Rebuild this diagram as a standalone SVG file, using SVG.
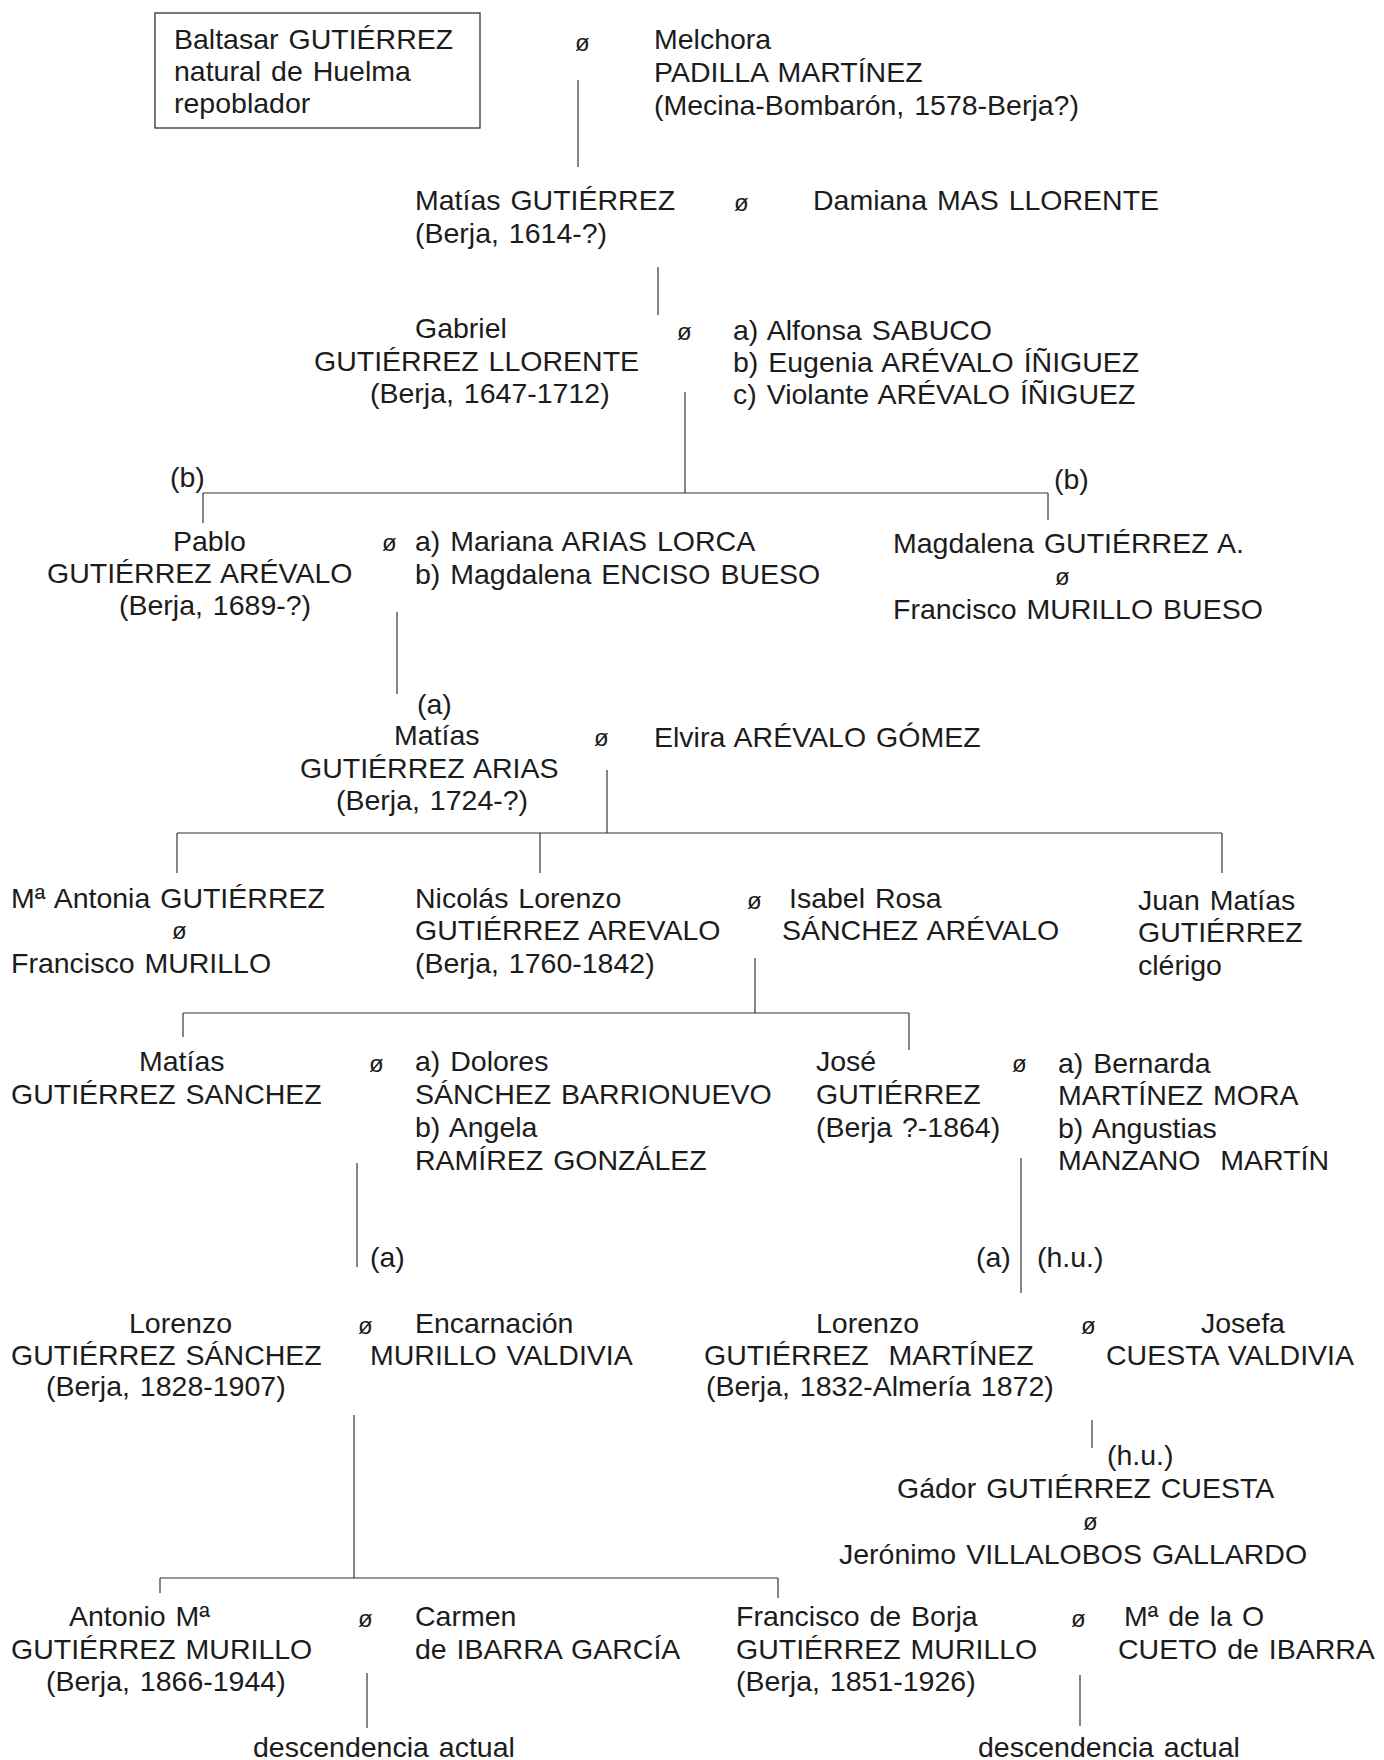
<svg xmlns="http://www.w3.org/2000/svg" width="1384" height="1760" viewBox="0 0 1384 1760">
<style>
text{font-family:"Liberation Sans",Arial,sans-serif;font-size:28.5px;fill:#1c1c1c;word-spacing:2px}
text.m{font-size:24px}
.c line{stroke:#333;stroke-width:1.2}
.box{fill:none;stroke:#333;stroke-width:1.3}
</style>
<rect width="1384" height="1760" fill="#fff"/>
<g class="c" id="connectors">
<line x1="578" y1="80" x2="578" y2="167"/>
<line x1="658" y1="267" x2="658" y2="315"/>
<line x1="685" y1="392" x2="685" y2="493"/>
<line x1="203" y1="493" x2="1048" y2="493"/>
<line x1="203" y1="493" x2="203" y2="523"/>
<line x1="1048" y1="493" x2="1048" y2="520"/>
<line x1="397" y1="612" x2="397" y2="694"/>
<line x1="607" y1="770" x2="607" y2="833"/>
<line x1="177" y1="833" x2="1222" y2="833"/>
<line x1="177" y1="833" x2="177" y2="873"/>
<line x1="540" y1="833" x2="540" y2="873"/>
<line x1="1222" y1="833" x2="1222" y2="873"/>
<line x1="755" y1="958" x2="755" y2="1013"/>
<line x1="183" y1="1013" x2="909" y2="1013"/>
<line x1="183" y1="1013" x2="183" y2="1037"/>
<line x1="909" y1="1013" x2="909" y2="1050"/>
<line x1="357" y1="1163" x2="357" y2="1267"/>
<line x1="1021" y1="1158" x2="1021" y2="1293"/>
<line x1="354" y1="1415" x2="354" y2="1578"/>
<line x1="1092" y1="1420" x2="1092" y2="1448"/>
<line x1="160" y1="1578" x2="778" y2="1578"/>
<line x1="160" y1="1578" x2="160" y2="1593"/>
<line x1="778" y1="1578" x2="778" y2="1598"/>
<line x1="367" y1="1673" x2="367" y2="1728"/>
<line x1="1080" y1="1675" x2="1080" y2="1726"/>
</g>
<g id="baltasar">
<rect class="box" x="155" y="13" width="325" height="115"/>
<text x="174" y="49">Baltasar GUTIÉRREZ</text>
<text x="174" y="81">natural de Huelma</text>
<text x="174" y="113">repoblador</text>
</g>
<g id="marr1"><text class="m" x="575" y="51">ø</text></g>
<g id="melchora">
<text x="654" y="49">Melchora</text>
<text x="654" y="82">PADILLA MARTÍNEZ</text>
<text x="654" y="115">(Mecina-Bombarón, 1578-Berja?)</text>
</g>
<g id="matias1">
<text x="415" y="210">Matías GUTIÉRREZ</text>
<text x="415" y="243">(Berja, 1614-?)</text>
</g>
<g id="marr2"><text class="m" x="734" y="211">ø</text></g>
<g id="damiana"><text x="813" y="210">Damiana MAS LLORENTE</text></g>
<g id="gabriel">
<text x="415" y="338">Gabriel</text>
<text x="314" y="371">GUTIÉRREZ LLORENTE</text>
<text x="370" y="403">(Berja, 1647-1712)</text>
</g>
<g id="marr3"><text class="m" x="677" y="340">ø</text></g>
<g id="wives_gabriel">
<text x="733" y="340">a) Alfonsa SABUCO</text>
<text x="733" y="372">b) Eugenia ARÉVALO ÍÑIGUEZ</text>
<text x="733" y="404">c) Violante ARÉVALO ÍÑIGUEZ</text>
</g>
<g id="lbl_b1"><text x="170" y="487">(b)</text></g>
<g id="lbl_b2"><text x="1054" y="489">(b)</text></g>
<g id="pablo">
<text x="173" y="551">Pablo</text>
<text x="47" y="583">GUTIÉRREZ ARÉVALO</text>
<text x="119" y="615">(Berja, 1689-?)</text>
</g>
<g id="marr4"><text class="m" x="382" y="551">ø</text></g>
<g id="wives_pablo">
<text x="415" y="551">a) Mariana ARIAS LORCA</text>
<text x="415" y="584">b) Magdalena ENCISO BUESO</text>
</g>
<g id="magdalena">
<text x="893" y="553">Magdalena GUTIÉRREZ A.</text>
<text class="m" x="1055" y="585">ø</text>
<text x="893" y="619">Francisco MURILLO BUESO</text>
</g>
<g id="lbl_a1"><text x="417" y="714">(a)</text></g>
<g id="matias2">
<text x="394" y="745">Matías</text>
<text x="300" y="778">GUTIÉRREZ ARIAS</text>
<text x="336" y="810">(Berja, 1724-?)</text>
</g>
<g id="marr5"><text class="m" x="594" y="746">ø</text></g>
<g id="elvira"><text x="654" y="747">Elvira ARÉVALO GÓMEZ</text></g>
<g id="antonia">
<text x="11" y="908">Mª Antonia GUTIÉRREZ</text>
<text class="m" x="172" y="939">ø</text>
<text x="11" y="973">Francisco MURILLO</text>
</g>
<g id="nicolas">
<text x="415" y="908">Nicolás Lorenzo</text>
<text x="415" y="940">GUTIÉRREZ AREVALO</text>
<text x="415" y="973">(Berja, 1760-1842)</text>
</g>
<g id="marr6"><text class="m" x="747" y="909">ø</text></g>
<g id="isabel">
<text x="789" y="908">Isabel Rosa</text>
<text x="782" y="940">SÁNCHEZ ARÉVALO</text>
</g>
<g id="juan">
<text x="1138" y="910">Juan Matías</text>
<text x="1138" y="942">GUTIÉRREZ</text>
<text x="1138" y="975">clérigo</text>
</g>
<g id="matias3">
<text x="139" y="1071">Matías</text>
<text x="11" y="1104">GUTIÉRREZ SANCHEZ</text>
</g>
<g id="marr7"><text class="m" x="369" y="1072">ø</text></g>
<g id="wives_matias3">
<text x="415" y="1071">a) Dolores</text>
<text x="415" y="1104">SÁNCHEZ BARRIONUEVO</text>
<text x="415" y="1137">b) Angela</text>
<text x="415" y="1170">RAMÍREZ GONZÁLEZ</text>
</g>
<g id="jose">
<text x="816" y="1071">José</text>
<text x="816" y="1104">GUTIÉRREZ</text>
<text x="816" y="1137">(Berja ?-1864)</text>
</g>
<g id="marr8"><text class="m" x="1012" y="1072">ø</text></g>
<g id="wives_jose">
<text x="1058" y="1073">a) Bernarda</text>
<text x="1058" y="1105">MARTÍNEZ MORA</text>
<text x="1058" y="1138">b) Angustias</text>
<text x="1058" y="1170" xml:space="preserve">MANZANO  MARTÍN</text>
</g>
<g id="lbl_a2"><text x="370" y="1267">(a)</text></g>
<g id="lbl_a3"><text x="976" y="1267">(a)</text></g>
<g id="lbl_hu1"><text x="1037" y="1267">(h.u.)</text></g>
<g id="lorenzo1">
<text x="129" y="1333">Lorenzo</text>
<text x="11" y="1365">GUTIÉRREZ SÁNCHEZ</text>
<text x="46" y="1396">(Berja, 1828-1907)</text>
</g>
<g id="marr9"><text class="m" x="358" y="1334">ø</text></g>
<g id="encarnacion">
<text x="415" y="1333">Encarnación</text>
<text x="370" y="1365">MURILLO VALDIVIA</text>
</g>
<g id="lorenzo2">
<text x="816" y="1333">Lorenzo</text>
<text x="704" y="1365" xml:space="preserve">GUTIÉRREZ  MARTÍNEZ</text>
<text x="706" y="1396">(Berja, 1832-Almería 1872)</text>
</g>
<g id="marr10"><text class="m" x="1081" y="1334">ø</text></g>
<g id="josefa">
<text x="1201" y="1333">Josefa</text>
<text x="1106" y="1365">CUESTA VALDIVIA</text>
</g>
<g id="lbl_hu2"><text x="1107" y="1465">(h.u.)</text></g>
<g id="gador">
<text x="897" y="1498">Gádor GUTIÉRREZ CUESTA</text>
<text class="m" x="1083" y="1530">ø</text>
<text x="839" y="1564">Jerónimo VILLALOBOS GALLARDO</text>
</g>
<g id="antonio">
<text x="69" y="1626">Antonio Mª</text>
<text x="11" y="1659">GUTIÉRREZ MURILLO</text>
<text x="46" y="1691">(Berja, 1866-1944)</text>
</g>
<g id="marr11"><text class="m" x="358" y="1627">ø</text></g>
<g id="carmen">
<text x="415" y="1626">Carmen</text>
<text x="415" y="1659">de IBARRA GARCÍA</text>
</g>
<g id="francisco">
<text x="736" y="1626">Francisco de Borja</text>
<text x="736" y="1659">GUTIÉRREZ MURILLO</text>
<text x="736" y="1691">(Berja, 1851-1926)</text>
</g>
<g id="marr12"><text class="m" x="1071" y="1627">ø</text></g>
<g id="mdelao">
<text x="1124" y="1626">Mª de la O</text>
<text x="1118" y="1659">CUETO de IBARRA</text>
</g>
<g id="desc1"><text x="253" y="1757">descendencia actual</text></g>
<g id="desc2"><text x="978" y="1757">descendencia actual</text></g>
</svg>
